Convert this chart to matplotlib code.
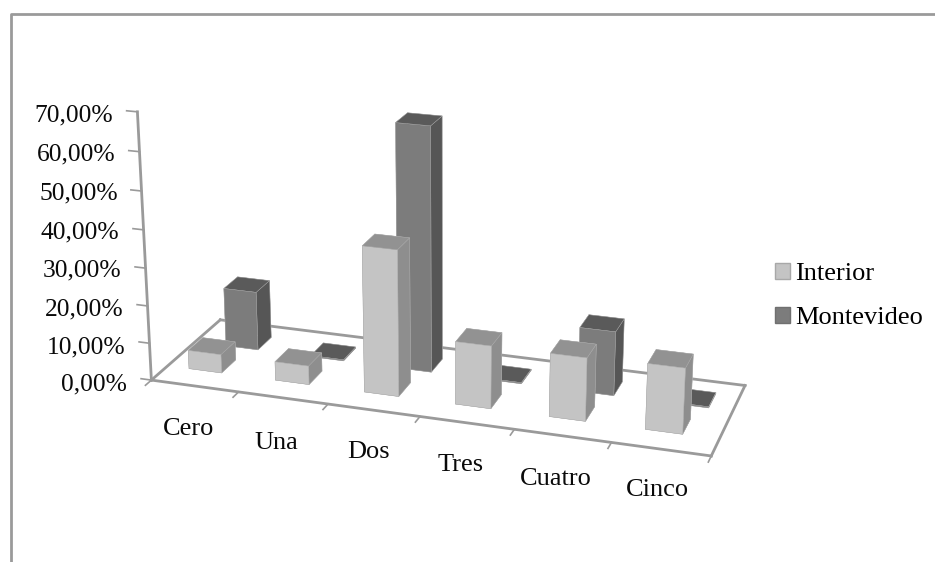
import matplotlib
matplotlib.use("Agg")
import matplotlib.pyplot as plt
from matplotlib.patches import Patch
import numpy as np

plt.rcParams['font.family'] = ['Liberation Serif', 'DejaVu Serif']

categories = ['Cero', 'Una', 'Dos', 'Tres', 'Cuatro', 'Cinco']
series_names = ['Interior', 'Montevideo']
interior = [5.0, 5.0, 38.5, 16.5, 16.5, 17.0]
montevideo = [16.0, 0.3, 65.0, 0.3, 17.0, 0.3]
yticks = [0, 10, 20, 30, 40, 50, 60, 70]
ylabels = ['0,00%', '10,00%', '20,00%', '30,00%', '40,00%', '50,00%', '60,00%', '70,00%']

# label anchors in pixels from the top-left corner
ylabel_px = [(127, 384), (125, 347), (123, 309), (121, 270), (119, 232), (118, 193), (116, 154), (113, 115)]
cat_px = [(189, 429), (276, 443), (369, 452), (461, 465), (556, 479), (657, 490)]

W, H = 935, 562
LINE = '#9a9a9a'
FS = 18.4


def face_colors(n, front, side, top):
    # bar3d face order: bottom, top, front, back, left, right
    return [side, top, front, side, side, side] * n


def px_text(px, py, s, **kw):
    fig.text(px / W, 1 - py / H, s, fontsize=kw.pop('fontsize', FS), color='#0a0a0a', **kw)


fig = plt.figure(figsize=(W / 100, H / 100), dpi=100)
fig.patch.set_facecolor('white')
ax = fig.add_axes([0.009, -0.043, 0.92, 1.16], projection='3d')
ax.set_proj_type('persp', focal_length=0.6)
ax.view_init(elev=20, azim=-72)
ax.set_box_aspect((6, 1.8, 2.95))
ax.set_axis_off()
ax.computed_zorder = False
ax.set_xlim(0, 6)
ax.set_ylim(0, 1)
ax.set_zlim(0, 70)

n = len(categories)
w, d = 0.38, 0.21
xs = np.concatenate([np.arange(n) + 0.25, np.arange(n) + 0.37])
ys = np.concatenate([np.full(n, 0.225), np.full(n, 0.62)])
zs = np.zeros(2 * n)
heights = np.concatenate([interior, montevideo])
colors = face_colors(n, '#c4c4c4', '#8e8e8e', '#929292') + face_colors(n, '#7c7c7c', '#565656', '#5a5a5a')
ax.bar3d(xs, ys, zs, w, d, heights, color=colors, shade=False, zsort='max', zorder=2,
         edgecolor='#b0b0b0', linewidth=0.3)

# floor outline
ax.plot([0, 6], [1, 1], [0, 0], color=LINE, lw=2, zorder=1)
ax.plot([0, 0], [0, 1], [0, 0], color=LINE, lw=2, zorder=1)
ax.plot([6, 6], [0, 1], [0, 0], color=LINE, lw=2, zorder=1)
ax.plot([0, 6], [0, 0], [0, 0], color=LINE, lw=2, zorder=3)
# value axis
ax.plot([0, 0], [0, 0], [0, 70], color=LINE, lw=2, zorder=3)
for v in yticks:
    ax.plot([-0.12, 0], [0, 0], [v, v], color=LINE, lw=1.2, zorder=3)
# category axis
for i in range(n + 1):
    ax.plot([i, i], [-0.08, 0], [0, 0], color=LINE, lw=1.2, zorder=3)

for (px, py), lab in zip(ylabel_px, ylabels):
    px_text(px, py, lab, ha='right', va='center')
for (px, py), cat in zip(cat_px, categories):
    px_text(px, py, cat, ha='center', va='center', fontsize=19)

# chart frame, open at the right and the bottom
fig.add_artist(plt.Line2D([11 / W, 11 / W, 1], [0, 1 - 14 / H, 1 - 14 / H], color=LINE, lw=2))

handles = [Patch(facecolor='#c4c4c4', edgecolor='#a8a8a8', label=series_names[0]),
           Patch(facecolor='#7c7c7c', edgecolor='#707070', label=series_names[1])]
fig.legend(handles=handles, loc='center left', bbox_to_anchor=(775 / W, 1 - 296 / H), frameon=False, fontsize=19,
           handlelength=0.55, handleheight=0.55, handletextpad=0.2, labelspacing=0.82, borderpad=0, borderaxespad=0)

fig.savefig('out.png', dpi=100)
